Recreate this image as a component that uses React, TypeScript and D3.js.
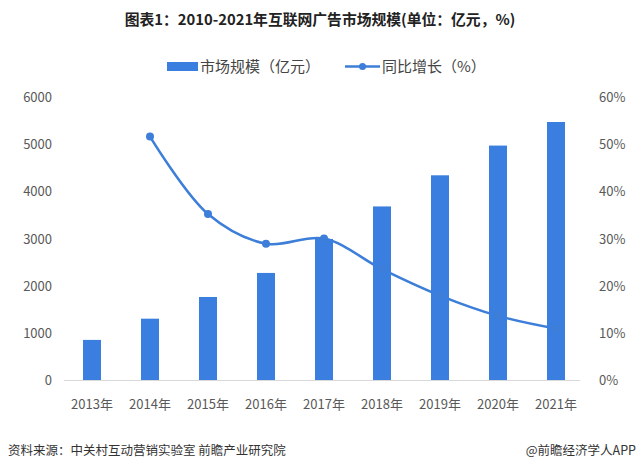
import React from "react";
import * as d3 from "d3";

const years = ["2013年", "2014年", "2015年", "2016年", "2017年", "2018年", "2019年", "2020年", "2021年"];
const marketSize = [850, 1300, 1760, 2270, 2990, 3680, 4340, 4970, 5470];
const growthYears = ["2014年", "2015年", "2016年", "2017年", "2018年", "2019年", "2020年", "2021年"];
const growthRate = [51.6, 35.2, 28.9, 30.0, 23.5, 17.9, 13.6, 10.9];
const leftTicks = [0, 1000, 2000, 3000, 4000, 5000, 6000];
const rightTicks = [0, 10, 20, 30, 40, 50, 60];

const W = 640;
const H = 471;
const FONT = "'Noto Sans CJK SC', 'Noto Sans', sans-serif";
const BAR = "#3a7fdf";
const LINE = "#3c7ed8";

export default function App() {
  const x = d3.scaleBand<string>().domain(years).range([63, 585]).padding(0);
  const yL = d3.scaleLinear().domain([0, 6000]).range([380, 97]);
  const yR = d3.scaleLinear().domain([0, 60]).range([380, 97]);
  const cx = (k: string) => (x(k) ?? 0) + x.bandwidth() / 2;
  const barW = 18;

  const pts: [number, number][] = growthYears.map((k, i) => [cx(k), yR(growthRate[i])]);
  const linePath = d3.line().curve(d3.curveCatmullRom.alpha(0.5))(pts) ?? "";

  return (
    <svg width={W} height={H} style={{ position: "absolute", left: 0, top: 0, background: "#fff" }} fontFamily={FONT}>
      <rect width={W} height={H} fill="#fff" />
      <text x={320} y={25} textAnchor="middle" fontSize={14.8} fontWeight="bold" fill="#222">
        图表1：2010-2021年互联网广告市场规模(单位：亿元，%)
      </text>
      {/* legend */}
      <rect x={167} y={62} width={31} height={9} fill={BAR} />
      <text x={200} y={71.5} fontSize={15} fill="#444">市场规模（亿元）</text>
      <line x1={345} x2={380} y1={66.5} y2={66.5} stroke={LINE} strokeWidth={2.5} />
      <circle cx={362.5} cy={66.5} r={3.5} fill={LINE} />
      <text x={382} y={71.5} fontSize={15} fill="#444">同比增长（%）</text>

      {/* left axis */}
      {leftTicks.map((t) => (
        <text key={"l" + t} x={52} y={yL(t) + 5} textAnchor="end" fontSize={13} fill="#595959">
          {t}
        </text>
      ))}
      {rightTicks.map((t) => (
        <text key={"r" + t} x={599} y={yR(t) + 5} textAnchor="start" fontSize={13} fill="#595959">
          {t}%
        </text>
      ))}

      {/* line (behind bars) */}
      <path d={linePath} fill="none" stroke={LINE} strokeWidth={2.5} />

      {/* bars */}
      {years.map((k, i) => (
        <rect key={k} x={cx(k) - barW / 2} y={yL(marketSize[i])} width={barW} height={380 - yL(marketSize[i])} fill={BAR} />
      ))}

      {/* markers */}
      {pts.map((p, i) => (
        <circle key={"m" + i} cx={p[0]} cy={p[1]} r={4} fill={LINE} />
      ))}

      <line x1={64} x2={580} y1={380.5} y2={380.5} stroke="#d9d9d9" strokeWidth={1} />

      {years.map((k) => (
        <text key={"x" + k} x={cx(k)} y={409} textAnchor="middle" fontSize={13} fill="#595959">
          {k}
        </text>
      ))}

      <text x={8} y={455} fontSize={12.5} fill="#333">资料来源：中关村互动营销实验室 前瞻产业研究院</text>
      <text x={636} y={455} textAnchor="end" fontSize={12.5} fill="#333">@前瞻经济学人APP</text>
    </svg>
  );
}
